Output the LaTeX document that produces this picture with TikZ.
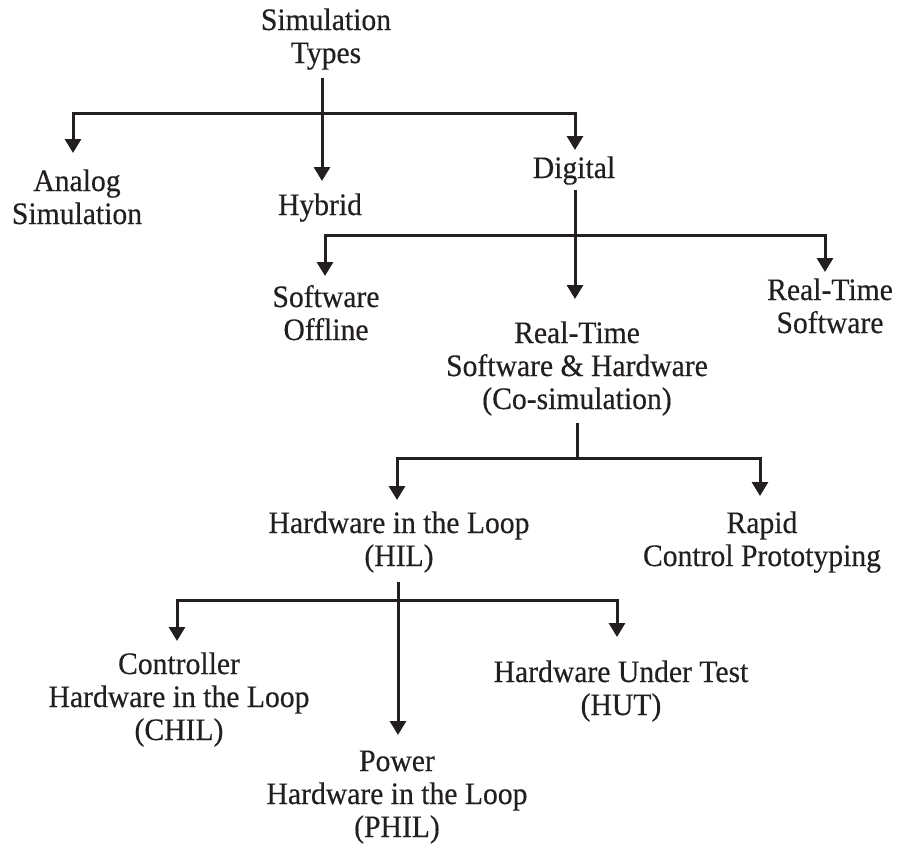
\documentclass[tikz,border=0pt]{standalone}
\usepackage{fontspec}
\setmainfont{Liberation Serif}[FakeStretch=0.95,FakeBold=0.4]
\usetikzlibrary{arrows.meta}
\definecolor{ink}{RGB}{35,31,32}
\begin{document}
\begin{tikzpicture}[x=1pt,y=-1pt,
  lbl/.style={align=center,inner sep=0pt,anchor=base,text=ink,font=\fontsize{31.2}{33}\selectfont},
  conn/.style={line width=3pt,line join=miter,color=ink},
  arr/.style={conn,-{Triangle[width=16pt,length=14pt]}}]
\useasboundingbox (0,0) rectangle (898,844);
% nodes (anchor = baseline of last line)
\node[lbl] (root) at (326,63) {Simulation\\Types};
\node[lbl] (analog) at (77,224) {Analog\\Simulation};
\node[lbl] (hybrid) at (320,215) {Hybrid};
\node[lbl] (digital) at (574,178) {Digital};
\node[lbl] (swoff) at (326,340) {Software\\Offline};
\node[lbl] (rts) at (830,333) {Real-Time\\Software};
\node[lbl] (rtsh) at (577,409) {Real-Time\\Software \& Hardware\\(Co-simulation)};
\node[lbl] (hil) at (399,566) {Hardware in the Loop\\(HIL)};
\node[lbl] (rcp) at (762,566) {Rapid\\Control Prototyping};
\node[lbl] (chil) at (179,740) {Controller\\Hardware in the Loop\\(CHIL)};
\node[lbl] (hut) at (621,715) {Hardware Under Test\\(HUT)};
\node[lbl] (phil) at (397,837) {Power\\Hardware in the Loop\\(PHIL)};
% junction and tip coordinates
\coordinate (s1) at (322,78);
\coordinate (j1) at (322,113);
\coordinate (tAnalog) at (73,153);
\coordinate (tHybrid) at (322,181);
\coordinate (tDigital) at (575,150);
\coordinate (s2) at (575,190);
\coordinate (j2) at (575,235);
\coordinate (tSwoff) at (325,276);
\coordinate (tRtsh) at (575,299);
\coordinate (tRts) at (825,272);
\coordinate (s3) at (577,423);
\coordinate (j3) at (577,458);
\coordinate (tHil) at (397,500);
\coordinate (tRcp) at (760,496);
\coordinate (s4) at (398,582);
\coordinate (j4) at (398,600);
\coordinate (tChil) at (177,641);
\coordinate (tPhil) at (398,735);
\coordinate (tHut) at (617,637);
% connectors
\draw[arr] (s1) -- (tHybrid);
\draw[arr] (j1) -| (tAnalog);
\draw[arr] (j1) -| (tDigital);
\draw[arr] (s2) -- (tRtsh);
\draw[arr] (j2) -| (tSwoff);
\draw[arr] (j2) -| (tRts);
\draw[conn] (s3) -- (j3);
\draw[arr] (j3) -| (tHil);
\draw[arr] (j3) -| (tRcp);
\draw[arr] (s4) -- (tPhil);
\draw[arr] (j4) -| (tChil);
\draw[arr] (j4) -| (tHut);
\end{tikzpicture}
\end{document}
